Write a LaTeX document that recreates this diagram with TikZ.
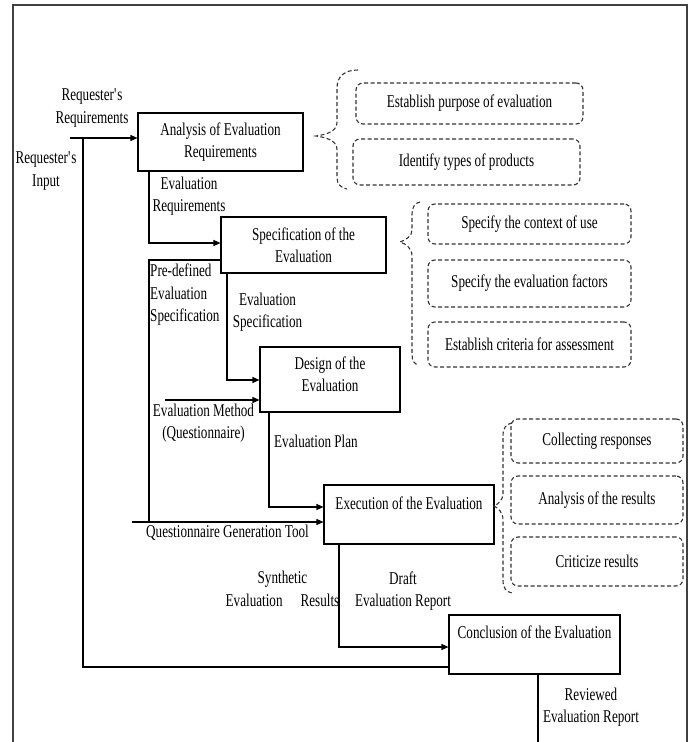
\documentclass[tikz,border=0pt]{standalone}
\usepackage{fontspec}
\setmainfont{Liberation Serif}[FakeStretch=0.73]
\usetikzlibrary{arrows.meta}
\begin{document}
\begin{tikzpicture}[x=1pt,y=-1pt,
  font=\fontsize{18}{22.5}\selectfont,
  proc/.style={draw, line width=1.1pt, align=center, inner sep=0pt},
  dbox/.style={draw=black!80, dash pattern=on 4pt off 2.5pt, rounded corners=7pt, line width=1.1pt, align=center, inner sep=0pt, minimum height=#1},
  lbl/.style={align=center, inner sep=0pt},
  lbll/.style={align=left, inner sep=0pt},
  ln/.style={line width=1.1pt},
  arr/.style={line width=1.1pt, -{Triangle[length=7pt,width=6pt]}},
  brc/.style={draw=black!80, dash pattern=on 4pt off 2.5pt, line width=1.1pt}]
\useasboundingbox (0,0) rectangle (693,742);
% frame
\draw[line width=1.3pt, black!75] (13,742) -- (13,5) -- (687,5) -- (687,742);

% process boxes
\node[proc, minimum width=165pt, minimum height=58pt] (A) at (220.5,142) {Analysis of Evaluation\\Requirements};
\node[proc, minimum width=165pt, minimum height=56pt] (S) at (303.5,245) {Specification of the\\Evaluation};
\node[proc, minimum width=140pt, minimum height=65pt] (D) at (330,379.5) {};
\node[lbl] (Dt) at (330,374) {Design of the\\Evaluation};
\node[proc, minimum width=170pt, minimum height=59pt] (E) at (409,514.5) {};
\node[lbl] (Et) at (409,503) {Execution of the Evaluation};
\node[proc, minimum width=171pt, minimum height=59pt] (C) at (534.5,644.5) {};
\node[lbl] (Ct) at (534.5,632) {Conclusion of the Evaluation};

% dashed boxes
\node[dbox=41pt, minimum width=227pt] (P1) at (469.5,103.5) {Establish purpose of evaluation};
\node[dbox=46pt, minimum width=227pt] (P2) at (466.5,162) {Identify types of products};
\node[dbox=40pt, minimum width=203pt] (Q1) at (529.5,224) {Specify the context of use};
\node[dbox=47pt, minimum width=203pt] (Q2) at (529.5,283.5) {Specify the evaluation factors};
\node[dbox=45pt, minimum width=203pt] (Q3) at (529.5,344.5) {Establish criteria for assessment};
\node[dbox=44pt, minimum width=172pt] (R1) at (597,441) {Collecting responses};
\node[dbox=48pt, minimum width=172pt] (R2) at (597,500) {Analysis of the results};
\node[dbox=49pt, minimum width=172pt] (R3) at (597,561.5) {Criticize results};

% braces
\draw[brc] (358,70) .. controls (345,70) and (337,76) .. (337,88) -- (337,122)
  .. controls (337,130) and (330,134) .. (316,136)
  .. controls (330,138) and (337,142) .. (337,150) -- (337,178)
  .. controls (337,184) and (341,188) .. (347,189);
\draw[brc] (420,202) .. controls (415,203) and (412,207) .. (412,214) -- (412,230)
  .. controls (412,236) and (406,240) .. (400,242)
  .. controls (406,244) and (412,248) .. (412,256) -- (412,354)
  .. controls (412,361) and (414,364) .. (419,365);
\draw[brc] (512,423) .. controls (506,424) and (503,428) .. (503,436) -- (503,494)
  .. controls (503,500) and (498,504) .. (494,506)
  .. controls (498,508) and (503,512) .. (503,520) -- (503,580)
  .. controls (503,588) and (506,592) .. (512,593);

% coordinates
\coordinate (rr) at (70,138);
\coordinate (ri) at (83,138);
\coordinate (rib) at (83,667);
\coordinate (er) at (149,171);
\coordinate (pd) at (149,522);
\coordinate (qg) at (132,522);
\coordinate (es) at (227,273);
\coordinate (em) at (165,400);
\coordinate (ep) at (269,412);
\coordinate (dr) at (339,544);
\coordinate (rv) at (538,674);
\coordinate (rve) at (538,742);

% connectors
\draw[arr] (rr) -- (rr -| A.west);
\draw[ln] (ri) -- (rib) -- (rib -| C.west);
\draw[arr] (er) |- (S.west |- 0,243);
\draw[ln] (S.west |- 0,260) -| (pd);
\draw[arr] (qg) -- (qg -| E.west);
\draw[arr] (es) |- (D.west |- 0,380);
\draw[arr] (em) -- (em -| D.west);
\draw[arr] (ep) |- (E.west |- 0,507);
\draw[arr] (dr) |- (C.west |- 0,647);
\draw[ln] (rv) -- (rve);

% labels
\node[lbl] (t1) at (92,108) {Requester\textquotesingle s\\Requirements};
\node[lbl] (t2) at (46,171) {Requester\textquotesingle s\\Input};
\node[lbl] (t3) at (189,196) {Evaluation\\Requirements};
\node[lbll, anchor=west] (t4) at (150,295) {Pre-defined\\Evaluation\\Specification};
\node[lbl] (t5) at (267.5,312) {Evaluation\\Specification};
\node[lbl] (t6) at (203.5,423) {Evaluation Method\\(Questionnaire)};
\node[lbl] (t7) at (316,441) {Evaluation Plan};
\node[lbl] (t8) at (227.5,533) {Questionnaire Generation Tool};
\node[lbl] (t9) at (282.5,589) {Synthetic\\Evaluation\quad Results};
\node[lbl] (t10) at (403,591) {Draft\\Evaluation Report};
\node[lbl] (t11) at (591,707) {Reviewed\\Evaluation Report};
\end{tikzpicture}
\end{document}
